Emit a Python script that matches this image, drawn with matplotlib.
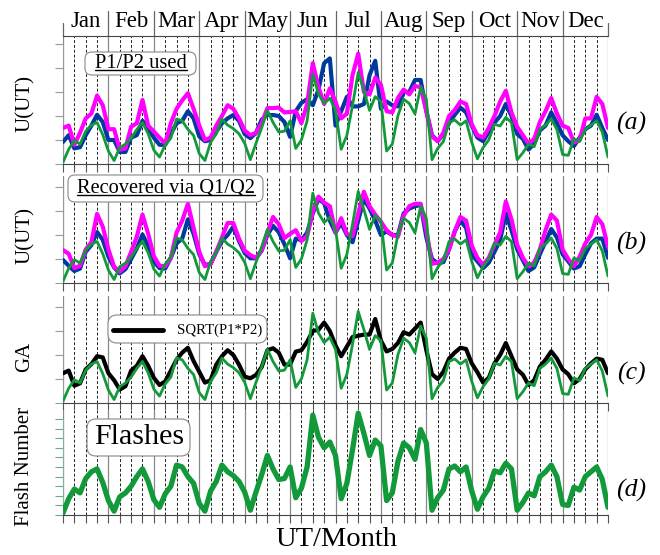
import numpy as np
import matplotlib.pyplot as plt
from matplotlib.patches import FancyBboxPatch
from matplotlib.lines import Line2D
from matplotlib.transforms import IdentityTransform

plt.rcParams['font.family'] = ['Liberation Serif', 'DejaVu Serif']
plt.rcParams['lines.solid_joinstyle'] = 'round'
plt.rcParams['lines.solid_capstyle'] = 'round'

W, H = 660, 555

months = ["Jan", "Feb", "Mar", "Apr", "May", "Jun",
          "Jul", "Aug", "Sep", "Oct", "Nov", "Dec"]
step = 3  # hours between samples
hours = np.arange(0, 12 * 24 + 1, step)

# flash number (panel d units), 8 samples per month, Dec has the closing point
flashes = [
    0.2, 1.7, 2.7, 2.3, 3.8, 4.5, 4.8, 3.4,
    1.5, 0.4, 1.9, 2.3, 3.0, 4.0, 4.8, 3.5,
    1.6, 0.8, 2.2, 3.0, 5.2, 5.0, 4.0, 3.3,
    1.2, 0.4, 2.5, 3.5, 5.2, 4.5, 4.1, 3.5,
    2.4, 0.5, 2.4, 4.2, 6.2, 4.8, 3.7, 3.8,
    5.0, 1.8, 2.8, 5.0, 10.4, 8.1, 7.0, 7.6,
    6.2, 1.7, 3.3, 6.8, 10.6, 8.5, 6.2, 7.8,
    7.2, 1.5, 2.3, 5.6, 7.5, 7.0, 5.8, 8.9,
    7.5, 0.5, 1.8, 2.6, 4.8, 5.1, 4.5, 5.0,
    2.5, 0.6, 1.9, 2.8, 4.6, 4.4, 5.4, 4.8,
    0.5, 1.3, 2.3, 2.0, 4.0, 4.5, 5.2, 4.0,
    1.1, 1.0, 2.9, 2.6, 4.0, 4.5, 5.0, 3.7, 0.8,
]
flash_to_u = 0.36  # green curve drawn in panels a-c

# panel (a): P1/P2 used
a_p1 = [
    1.5, 1.6, 0.8, 1.3, 1.9, 2.1, 2.85, 2.45,
    1.45, 1.45, 0.6, 0.65, 1.55, 1.7, 2.67, 1.6,
    1.35, 1.1, 0.85, 1.7, 2.3, 2.65, 2.95, 2.3,
    1.6, 1.0, 1.1, 1.6, 2.0, 2.45, 2.3, 1.9,
    1.4, 1.2, 1.3, 1.7, 2.33, 2.33, 2.35, 2.15,
    2.17, 2.2, 1.7, 2.5, 4.2, 3.2, 2.5, 3.15,
    2.6, 1.9, 2.1, 3.7, 4.6, 3.0, 2.9, 3.6,
    3.3, 2.2, 2.15, 2.75, 3.1, 2.9, 3.25, 3.2,
    2.2, 1.15, 0.95, 1.3, 2.0, 2.25, 2.6, 2.5,
    1.65, 1.2, 1.1, 1.5, 2.0, 2.6, 3.05, 2.15,
    1.55, 1.2, 0.85, 1.05, 1.75, 2.2, 2.75, 2.1,
    1.6, 1.5, 0.9, 1.0, 1.9, 1.9, 2.8, 2.5, 1.5,
]
a_p2 = [
    0.92, 1.2, 0.65, 0.7, 1.2, 1.6, 2.05, 1.75,
    1.0, 1.0, 0.5, 0.5, 1.1, 1.2, 1.8, 1.5,
    1.1, 0.8, 0.8, 1.25, 1.7, 1.8, 2.2, 1.9,
    1.15, 0.95, 1.0, 1.35, 1.7, 1.9, 2.04, 1.8,
    1.25, 1.08, 1.3, 1.85, 2.04, 2.04, 2.0, 1.75,
    1.13, 2.2, 2.55, 2.7, 2.45, 3.1, 4.2, 4.4,
    1.6, 2.2, 2.8, 2.4, 2.4, 2.5, 3.7, 4.3,
    2.3, 2.6, 2.45, 2.4, 3.0, 3.0, 3.5, 3.5,
    2.2, 1.2, 0.95, 1.25, 1.7, 2.05, 2.35, 2.15,
    1.6, 1.1, 0.95, 1.35, 1.72, 2.0, 2.5, 2.0,
    1.25, 1.05, 0.6, 0.85, 1.4, 1.6, 2.15, 1.7,
    1.2, 0.95, 0.75, 1.1, 1.45, 1.6, 2.05, 1.5, 1.0,
]

# panel (b): recovered via Q1/Q2
b_p1 = [
    1.37, 1.22, 0.62, 0.72, 1.4, 1.7, 2.88, 2.35,
    1.4, 0.68, 0.47, 0.7, 1.3, 1.93, 2.85, 2.05,
    1.12, 0.72, 0.7, 1.05, 2.1, 2.6, 3.3, 2.3,
    1.3, 0.7, 0.8, 1.3, 1.9, 2.5, 2.5, 1.85,
    1.35, 1.16, 1.05, 1.37, 2.1, 2.75, 2.45, 1.87,
    2.05, 2.2, 1.75, 1.95, 3.0, 3.6, 3.35, 3.2,
    2.1, 2.7, 2.05, 1.95, 2.9, 3.8, 3.2, 2.85,
    2.55, 2.2, 2.0, 1.93, 2.8, 3.2, 3.3, 3.3,
    2.2, 0.8, 0.85, 1.0, 1.4, 2.15, 2.75, 2.6,
    1.55, 1.05, 0.75, 1.05, 1.6, 2.1, 3.4, 2.65,
    1.6, 1.05, 0.7, 0.85, 1.4, 2.2, 2.85, 2.6,
    1.4, 1.0, 0.7, 1.1, 1.65, 2.0, 2.75, 2.45, 1.5,
]
b_p2 = [
    0.96, 0.72, 0.5, 0.6, 1.3, 1.58, 2.12, 1.8,
    1.1, 0.65, 0.4, 0.58, 1.0, 1.44, 2.02, 1.55,
    0.9, 0.62, 0.6, 1.05, 1.65, 1.85, 2.65, 2.05,
    1.2, 0.75, 0.8, 1.3, 1.75, 2.0, 2.35, 1.75,
    1.25, 1.03, 1.03, 1.35, 2.0, 2.38, 2.12, 1.62,
    1.03, 1.85, 1.78, 2.1, 2.9, 3.5, 3.32, 2.6,
    2.1, 2.5, 2.0, 1.7, 2.6, 3.5, 3.1, 2.6,
    2.0, 2.15, 2.0, 2.0, 2.9, 3.1, 3.2, 3.25,
    1.9, 1.0, 0.82, 0.87, 1.4, 2.15, 2.6, 2.3,
    1.2, 0.9, 0.62, 0.85, 1.3, 1.79, 2.9, 2.2,
    1.4, 0.95, 0.5, 0.65, 1.2, 1.72, 2.25, 1.9,
    1.2, 0.9, 0.6, 0.7, 1.2, 1.65, 1.85, 1.85, 1.05,
]

# panel (c): SQRT(P1*P2)
c_ga = [
    1.24, 1.35, 0.72, 0.82, 1.4, 1.62, 1.95, 1.9,
    1.24, 0.95, 0.56, 0.7, 1.35, 1.55, 1.95, 1.55,
    1.05, 0.75, 0.9, 1.35, 1.8, 2.1, 2.3, 1.75,
    1.3, 0.85, 0.95, 1.6, 1.95, 2.2, 2.0, 1.6,
    1.1, 1.03, 1.17, 1.5, 2.2, 2.28, 2.1, 1.6,
    1.6, 2.14, 2.2, 2.55, 3.0, 3.05, 3.35, 3.0,
    2.4, 1.95, 2.35, 2.75, 2.8, 2.85, 2.85, 3.5,
    2.6, 2.15, 2.25, 2.5, 2.95, 2.85, 3.1, 3.35,
    2.2, 1.2, 1.0, 1.3, 1.85, 2.1, 2.3, 2.25,
    1.65, 1.28, 0.85, 1.05, 1.65, 2.0, 2.5, 1.95,
    1.4, 1.18, 0.75, 0.95, 1.52, 1.8, 2.15, 1.85,
    1.4, 1.2, 0.82, 1.0, 1.4, 1.65, 1.85, 1.8, 1.24,
]

MAG, BLUE, GREEN, BLACK = '#ff00ff', '#003a9e', '#11993a', '#000000'

fig = plt.figure(figsize=(W / 100, H / 100), dpi=100)


def px_axes(top, bottom):
    return fig.add_axes([63 / W, 1 - bottom / H, 545 / W, (bottom - top) / H])


ax_a = px_axes(36, 164)
ax_b = px_axes(176, 283)
ax_c = px_axes(296, 403)
ax_d = px_axes(410, 515)

panels = [(ax_a, 128 / 24, 5), (ax_b, 107 / 24, 4),
          (ax_c, 107 / 24, 4), (ax_d, 105 / 9.6, 10)]

for ax, ytop, nt in panels:
    ax.set_xlim(0, 288)
    ax.set_ylim(0, ytop)
    for s in ['top', 'right']:
        ax.spines[s].set_visible(False)
    ax.spines['bottom'].set_color('#444444')
    ax.spines['left'].set_color('#999999')
    ax.spines['left'].set_bounds(0, nt)
    ax.set_xticks(np.arange(0, 289, 6))
    ax.set_yticks(np.arange(0, nt + 1))
    ax.set_xticklabels([])
    ax.set_yticklabels([])
    ax.tick_params(axis='x', direction='out', length=6, width=0.8, color='#555555')
    ax.tick_params(axis='y', direction='out', length=6, width=0.8, color='#999999')
    for m in range(13):
        ax.axvline(m * 24, color='#888888', lw=0.9, zorder=1)
        if m < 12:
            for h in (6, 12, 18):
                ax.axvline(m * 24 + h, color='#222222', lw=0.7,
                           ls=(0, (3, 2)), zorder=1)

ax_d.spines['left'].set_color('#7fb39a')
ax_d.tick_params(axis='y', color='#6aa887')

# top frame and month header of panel (a)
ax_a.spines['top'].set_visible(True)
ax_a.spines['top'].set_color('#444444')
for m in range(13):
    top = 1.10 if m in (0, 12) else 1.195
    ax_a.plot([m * 24, m * 24], [1, top], transform=ax_a.get_xaxis_transform(),
              color='#666666', lw=0.9, clip_on=False)
for m, name in enumerate(months):
    ax_a.text(m * 24 + 12, 1.07, name, transform=ax_a.get_xaxis_transform(),
              ha='center', va='baseline', fontsize=16.5)

fl = np.array(flashes)

ax_a.plot(hours, a_p2, color=BLUE, lw=3.0, zorder=3)
ax_a.plot(hours, a_p1, color=MAG, lw=3.0, zorder=4)
ax_a.plot(hours, fl * flash_to_u, color=GREEN, lw=2.0, zorder=5)

ax_b.plot(hours, b_p2, color=BLUE, lw=3.0, zorder=3)
ax_b.plot(hours, b_p1, color=MAG, lw=3.0, zorder=4)
ax_b.plot(hours, fl * flash_to_u, color=GREEN, lw=2.0, zorder=5)

ax_c.plot(hours, c_ga, color=BLACK, lw=3.0, zorder=3)
ax_c.plot(hours, fl * flash_to_u, color=GREEN, lw=2.0, zorder=5)

ax_d.plot(hours, fl, color=GREEN, lw=3.8, zorder=3)


def ftext(x, y, s, **kw):
    return fig.text(x / W, 1 - y / H, s, ha='center', va='center', **kw)


def rbox(x0, y0, x1, y1, r=7):
    p = FancyBboxPatch((x0, H - y1), x1 - x0, y1 - y0,
                       boxstyle=f'round,pad=0,rounding_size={r}',
                       transform=IdentityTransform(), fc='white',
                       ec='#888888', lw=0.8, zorder=10)
    fig.patches.append(p)


# y labels and panel letters
for y, s in [(104, 'U(UT)'), (235, 'U(UT)'), (357, 'GA'), (466, 'Flash Number')]:
    ftext(25, y, s, rotation=90, fontsize=15)
for y, s in [(123, '(a)'), (243, '(b)'), (373, '(c)'), (490, '(d)')]:
    ftext(631, y, s, fontsize=18.5, style='italic')
ftext(336, 539, 'UT/Month', fontsize=20.5)

# annotation boxes
rbox(85, 52, 196, 75)
t1 = ftext(141, 63, 'P1/P2 used', fontsize=14.8, zorder=11)
rbox(68, 175, 263, 202)
t2 = ftext(166, 188, 'Recovered via Q1/Q2', fontsize=14.7, zorder=11)
rbox(108, 315, 267, 343, r=9)
fig.lines.append(Line2D([113 / W, 163 / W], [1 - 330 / H, 1 - 330 / H],
                        transform=fig.transFigure, color=BLACK, lw=3.5, zorder=11))
ftext(220, 330, 'SQRT(P1*P2)', fontsize=10.6, zorder=11)
rbox(87, 419, 190, 456, r=9)
ftext(139, 437, 'Flashes', fontsize=21.6, zorder=11)

renderer = fig.canvas.get_renderer()
for t in (t1, t2):
    bb = t.get_window_extent(renderer)
    yline = bb.y0 + 3
    fig.lines.append(Line2D([bb.x0, bb.x1], [yline, yline], transform=IdentityTransform(),
                            color=BLACK, lw=1.0, zorder=12))

fig.savefig('out.png', dpi=100)
